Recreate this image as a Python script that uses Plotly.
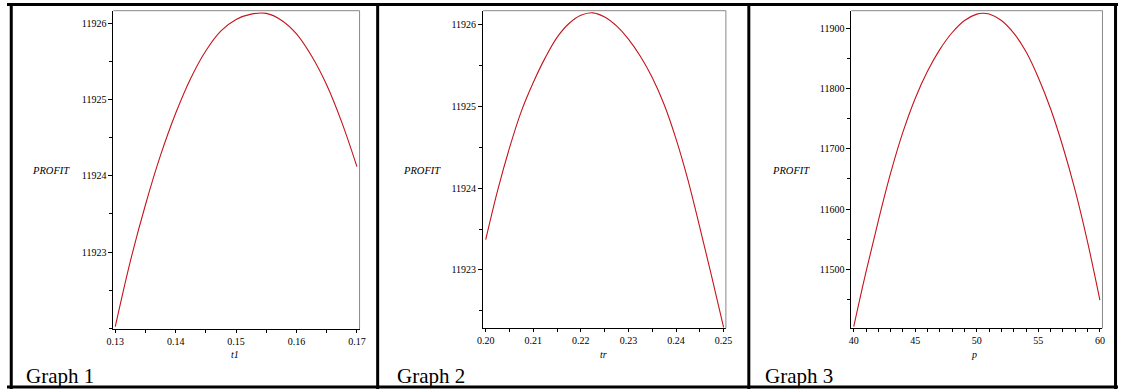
import plotly.graph_objects as go

# ---------------- data ----------------
t1_vals = [0.13, 0.1325, 0.135, 0.1375, 0.14, 0.1425, 0.145, 0.1475, 0.15, 0.1525,
           0.155, 0.1575, 0.16, 0.1625, 0.165, 0.1675, 0.17]
profit_t1 = [11922.02, 11922.88, 11923.62, 11924.27, 11924.82, 11925.28, 11925.64, 11925.90,
             11926.05, 11926.12, 11926.13, 11926.04, 11925.86, 11925.57, 11925.19,
             11924.70, 11924.12]

tr_vals = [0.20, 0.2025, 0.205, 0.2075, 0.21, 0.2125, 0.215, 0.2175, 0.22, 0.2225, 0.225,
           0.2275, 0.23, 0.2325, 0.235, 0.2375, 0.24, 0.2425, 0.245, 0.2475, 0.25]
profit_tr = [11923.37, 11923.97, 11924.49, 11924.94, 11925.29, 11925.59, 11925.84, 11926.01,
             11926.11, 11926.14, 11926.09, 11925.98, 11925.82, 11925.61, 11925.35, 11925.02,
             11924.60, 11924.10, 11923.52, 11922.92, 11922.30]

p_vals = [40, 41, 42, 43, 44, 45, 46, 47, 48, 49, 50, 50.5, 51, 52, 53, 54, 55, 56, 57, 58, 59, 60]
profit_p = [11405, 11496, 11581, 11660, 11728, 11784, 11829, 11865, 11893, 11913, 11923.5,
            11925, 11923.7, 11913, 11892, 11861, 11818, 11766, 11703, 11630, 11545, 11449]

x_titles = ["t1", "tr", "p"]
y_title = "PROFIT"
captions = ["Graph 1", "Graph 2", "Graph 3"]

y_ticks_1 = [11923, 11924, 11925, 11926]
y_ticks_2 = [11923, 11924, 11925, 11926]
y_ticks_3 = [11500, 11600, 11700, 11800, 11900]
x_ticks_1 = [0.13, 0.14, 0.15, 0.16, 0.17]
x_ticks_2 = [0.20, 0.21, 0.22, 0.23, 0.24, 0.25]
x_ticks_3 = [40, 45, 50, 55, 60]

# ---------------- layout geometry ----------------
W, H = 1124, 392
def px_x(v):
    return v / W
def px_y(v):
    return 1 - v / H

panels = [
    dict(x=t1_vals, y=profit_t1, dom=(107.7, 356.7), ydom=(10.7, 329.0),
         xr=[0.1297, 0.17044], yr=[11921.99, 11926.165], xt=x_ticks_1, yt=y_ticks_1,
         xminor=0.005, yminor=0.5, xfmt=".2f"),
    dict(x=tr_vals, y=profit_tr, dom=(481.7, 727.3), ydom=(10.7, 328.3),
         xr=[0.19946, 0.25048], yr=[11922.288, 11926.166], xt=x_ticks_2, yt=y_ticks_2,
         xminor=0.005, yminor=0.5, xfmt=".2f"),
    dict(x=p_vals, y=profit_p, dom=(854.3, 1108.3), ydom=(10.7, 328.3),
         xr=[39.81, 60.21], yr=[11402.1, 11929.2], xt=x_ticks_3, yt=y_ticks_3,
         xminor=1, yminor=50, xfmt="d"),
]

fig = go.Figure()
tickfont = dict(family="Liberation Serif, Times New Roman, serif", size=10, color="black")
layout = {}
shapes = []
annotations = []

ytitle_x = [45, 420, 793]
xtitle_x = [230.7, 603, 978]
cap_x = [17, 393, 764.5]

for i, p in enumerate(panels):
    n = "" if i == 0 else str(i + 1)
    xa, ya = "x" + n, "y" + n
    fig.add_trace(go.Scatter(x=p["x"], y=p["y"], mode="lines", xaxis=xa, yaxis=ya,
                             line=dict(color="#c4141c", width=1.1, shape="spline", smoothing=1.0),
                             showlegend=False, hoverinfo="skip"))
    layout["xaxis" + n] = dict(
        domain=[px_x(p["dom"][0]), px_x(p["dom"][1])], anchor=ya, range=p["xr"],
        tickvals=p["xt"], tickformat=p["xfmt"], ticks="outside", ticklen=3, tickwidth=1,
        tickcolor="black", showline=True, linecolor="black", linewidth=1,
        showgrid=False, zeroline=False, tickfont=tickfont,
        minor=dict(dtick=p["xminor"], tick0=p["xt"][0], ticks="outside", ticklen=3,
                   tickcolor="black", showgrid=False),
    )
    layout["yaxis" + n] = dict(
        domain=[px_y(p["ydom"][1]), px_y(p["ydom"][0])], anchor=xa, range=p["yr"],
        tickvals=p["yt"], tickformat="d", ticks="outside", ticklen=4, tickwidth=1,
        tickcolor="black", showline=True, linecolor="black", linewidth=1,
        showgrid=False, zeroline=False, tickfont=tickfont,
        minor=dict(dtick=p["yminor"], tick0=p["yt"][0], ticks="outside", ticklen=3,
                   tickcolor="black", showgrid=False),
    )
    # gray frame top/right
    shapes.append(dict(type="line", xref=xa + " domain", yref=ya + " domain",
                       x0=0, x1=1, y0=1, y1=1, line=dict(color="#888888", width=1)))
    shapes.append(dict(type="line", xref=xa + " domain", yref=ya + " domain",
                       x0=1, x1=1, y0=0, y1=1, line=dict(color="#888888", width=1)))
    annotations.append(dict(text="<i>" + y_title + "</i>", xref="paper", yref="paper",
                            x=px_x(ytitle_x[i]), y=px_y(170.5), showarrow=False,
                            font=dict(family="Liberation Serif, serif", size=10.5, color="black"),
                            xanchor="center", yanchor="middle"))
    annotations.append(dict(text="<i>" + x_titles[i] + "</i>", xref="paper", yref="paper",
                            x=px_x(xtitle_x[i]), y=px_y(354), showarrow=False,
                            font=dict(family="Liberation Serif, serif", size=10, color="black"),
                            xanchor="center", yanchor="middle"))
    annotations.append(dict(text=captions[i], xref="paper", yref="paper",
                            x=px_x(cap_x[i]), y=px_y(376), showarrow=False,
                            font=dict(family="Liberation Serif, Times New Roman, serif", size=21,
                                      color="black"),
                            xanchor="left", yanchor="middle"))

# table borders
bw = 3
for (x0, y0, x1, y1) in [(0, 4.5, W, 4.5), (0, 387, W, 387), (4.3, 3, 4.3, 389),
                         (375, 3, 375, 389), (750.5, 3, 750.5, 389), (1121.5, 3, 1121.5, 389)]:
    shapes.append(dict(type="line", xref="paper", yref="paper",
                       x0=px_x(x0), x1=px_x(x1), y0=px_y(y0), y1=px_y(y1),
                       line=dict(color="black", width=bw)))

fig.update_layout(width=W, height=H, margin=dict(l=0, r=0, t=0, b=0),
                  paper_bgcolor="white", plot_bgcolor="white", showlegend=False,
                  shapes=shapes, annotations=annotations, **layout)

fig.write_html("out.html", config={"displayModeBar": False},
               post_script="document.body.style.margin='0';document.body.style.overflow='hidden';")
